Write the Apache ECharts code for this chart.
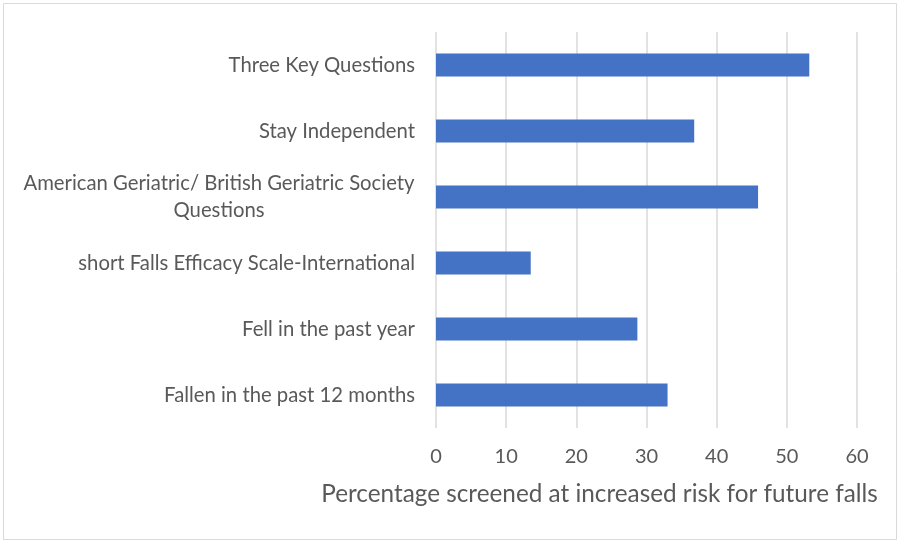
<!DOCTYPE html>
<html>
<head>
<meta charset="utf-8">
<script src="https://cdn.jsdelivr.net/npm/echarts@6/dist/echarts.min.js"></script>
<style>
html,body{margin:0;padding:0;background:#fff;}
#chart{width:900px;height:545px;}
</style>
</head>
<body>
<div id="chart"></div>
<script>
const categories = [
  'Three Key Questions',
  'Stay Independent',
  'American Geriatric/ British Geriatric Society Questions',
  'short Falls Efficacy Scale-International',
  'Fell in the past year',
  'Fallen in the past 12 months'
];
const values = [53.2, 36.8, 45.9, 13.5, 28.7, 33.0];
const xTicks = [0, 10, 20, 30, 40, 50, 60];
const axisTitle = 'Percentage screened at increased risk for future falls';

const FONT = 'Lato';
const TXT = '#595959';

const chart = echarts.init(document.getElementById('chart'));
chart.setOption({
  animation: false,
  backgroundColor: '#fff',
  graphic: [{
    type: 'rect',
    shape: {x: 3.5, y: 3.5, width: 893, height: 536},
    style: {fill: 'none', stroke: '#d9d9d9', lineWidth: 1},
    silent: true
  }],
  grid: {left: 436, right: 43, top: 32, bottom: 117, containLabel: false},
  xAxis: {
    type: 'value',
    min: xTicks[0],
    max: xTicks[xTicks.length - 1],
    interval: xTicks[1] - xTicks[0],
    axisLine: {show: false},
    axisTick: {show: false},
    splitLine: {show: true, lineStyle: {color: '#d9d9d9', width: 1.5}},
    axisLabel: {color: TXT, fontFamily: FONT, fontSize: 20, margin: 19},
    name: axisTitle,
    nameLocation: 'middle',
    nameGap: 54,
    nameTextStyle: {color: TXT, fontFamily: FONT, fontSize: 24.3, padding: [0, 94, 0, 0]}
  },
  yAxis: {
    type: 'category',
    inverse: true,
    data: categories.map(function (c, i) {
      if (i === 2) {
        return {value: c, textStyle: {align: 'center', padding: [0, 392, 0, 0], lineHeight: 27}};
      }
      return c;
    }),
    axisLine: {show: false},
    axisTick: {show: false},
    axisLabel: {
      color: TXT, fontFamily: FONT, fontSize: 20.3, margin: 21,
      formatter: function (v) {
        return v === categories[2] ? 'American Geriatric/ British Geriatric Society\nQuestions' : v;
      }
    }
  },
  series: [{
    type: 'bar',
    data: values,
    barWidth: '35%',
    itemStyle: {color: '#4472C4'}
  }]
});
</script>
</body>
</html>
